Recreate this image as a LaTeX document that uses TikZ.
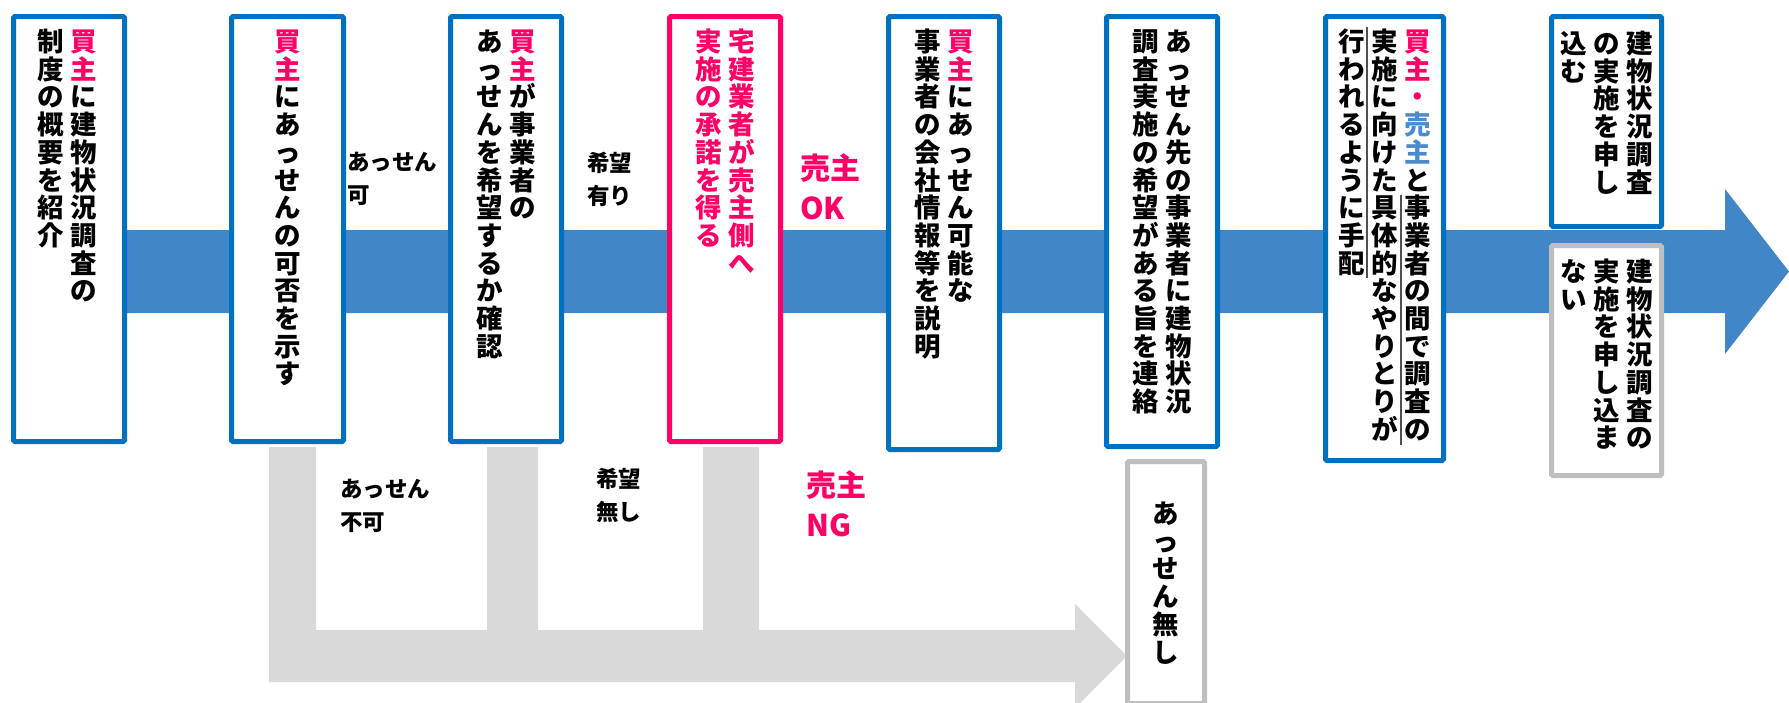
\documentclass[tikz,border=0pt]{standalone}
\usepackage{fontspec}
\setmainfont{Noto Sans CJK JP}
\definecolor{cBox}{HTML}{0070C0}
\definecolor{cBand}{RGB}{65,134,198}
\definecolor{cPink}{HTML}{FF0066}
\definecolor{cSell}{RGB}{74,138,206}
\definecolor{cGBand}{HTML}{D9D9D9}
\definecolor{cGBox}{HTML}{BFBFBF}
\definecolor{cRule}{HTML}{505050}
\newdimen\vpitch
\vpitch=27.7pt
\newcommand\cpk{\color{cPink}}
\newcommand\csl{\color{cSell}}
\newcommand\cg{\hspace{6.5pt}}
\ExplSyntaxOn
\NewDocumentCommand\vcol{m}{
  \vtop{\baselineskip=\vpitch \lineskiplimit=-100pt \lineskip=0pt
    \tl_map_inline:nn{#1}{\hbox_to_wd:nn{1em}{\vrule~height~0.88em~depth~0.12em~width~0pt\hss ##1\hss}}}
}
\ExplSyntaxOff
\tikzset{
  frame/.style={draw=#1, line width=5pt, fill=white, rectangle, inner sep=0pt, rounded corners=1.5pt, anchor=north west},
  vt/.style={font=\bfseries\fontsize{26.5}{30}\selectfont, inner sep=0pt, anchor=north},
  lbl/.style={font=\bfseries\fontsize{22.5}{33}\selectfont, inner sep=0pt, anchor=north west, align=left},
  plbl/.style={font=\bfseries\fontsize{30}{40}\selectfont, text=cPink, inner sep=0pt, anchor=north west, align=left},
}
\begin{document}
\begin{tikzpicture}[x=1pt,y=-1pt]
\useasboundingbox (0,0) rectangle (1789,702);
\clip (0,0) rectangle (1789,702);
% main blue arrow
\fill[cBand] (69,230) -- (1725,230) -- (1725,189) -- (1789,271.5) -- (1725,354) -- (1725,313) -- (69,313) -- cycle;
% gray arrow
\fill[cGBand] (269,447) -- (316,447) -- (316,630) -- (487,630) -- (487,447) -- (538,447) -- (538,630)
  -- (703,630) -- (703,447) -- (759,447) -- (759,630) -- (1075,630) -- (1075,604) -- (1127,656)
  -- (1075,708) -- (1075,682) -- (269,682) -- cycle;
% boxes
\node[frame=cBox, minimum width=111pt, minimum height=425pt] (b1) at (11,14) {};
\node[frame=cBox, minimum width=112pt, minimum height=425pt] (b2) at (229,14) {};
\node[frame=cBox, minimum width=111pt, minimum height=425pt] (b3) at (448,14) {};
\node[frame=cPink, minimum width=111pt, minimum height=425pt] (b4) at (667,14) {};
\node[frame=cBox, minimum width=111pt, minimum height=433pt] (b5) at (886,14) {};
\node[frame=cBox, minimum width=111pt, minimum height=430pt] (b6) at (1104,14) {};
\node[frame=cBox, minimum width=118pt, minimum height=444pt] (b7) at (1323,14) {};
\node[frame=cBox, minimum width=110pt, minimum height=210pt] (b8) at (1549,14) {};
\node[frame=cGBox, minimum width=110pt, minimum height=230pt] (b9) at (1549,243) {};
\node[frame=cGBox, minimum width=77pt, minimum height=242pt] (b10) at (1125,459) {};
% vertical texts
\node[vt] (t1) at (67,28) {\vcol{制度の概要を紹介}\cg\vcol{{\cpk 買}{\cpk 主}に建物状況調査の}};
\node[vt] (t2) at (287.5,28) {\vcol{{\cpk 買}{\cpk 主}にあっせんの可否を示す}};
\node[vt] (t3) at (506,28) {\vcol{あっせんを希望するか確認}\cg\vcol{{\cpk 買}{\cpk 主}が事業者の}};
\node[vt, text=cPink] (t4) at (725,28) {\vcol{実施の承諾を得る}\cg\vcol{宅建業者が売主側へ}};
\node[vt] (t5) at (944,28) {\vcol{事業者の会社情報等を説明}\cg\vcol{{\cpk 買}{\cpk 主}にあっせん可能な}};
\node[vt] (t6) at (1162,28) {\vcol{調査実施の希望がある旨を連絡}\cg\vcol{あっせん先の事業者に建物状況}};
\node[vt] (t7) at (1384.5,28) {\vcol{行われるように手配}\cg\vcol{実施に向けた具体的なやりとりが}\cg\vcol{{\cpk 買}{\cpk 主}{\cpk ・}{\csl 売}{\csl 主}と事業者の間で調査の}};
\node[vt] (t8) at (1606.5,30) {\vcol{込む}\cg\vcol{の実施を申し}\cg\vcol{建物状況調査}};
\node[vt] (t9) at (1606.5,258) {\vcol{ない}\cg\vcol{実施を申し込ま}\cg\vcol{建物状況調査の}};
\node[vt] (t10) at (1166,500) {\vcol{あっせん無し}};
% thin rules in box 7
\draw[cRule, line width=1.2pt] (1367,27) -- (1367,278);
\draw[cRule, line width=1.2pt] (1401,195) -- (1401,445);
% branch labels
\node[lbl] (l1) at (347,152) {あっせん\\可};
\node[lbl] (l2) at (587,152) {希望\\有り};
\node[plbl] (l3) at (800,153) {売主\\OK};
\node[lbl] (l4) at (340,479) {あっせん\\不可};
\node[lbl] (l5) at (596,468) {希望\\無し};
\node[plbl] (l6) at (806,470) {売主\\NG};
\end{tikzpicture}
\end{document}
